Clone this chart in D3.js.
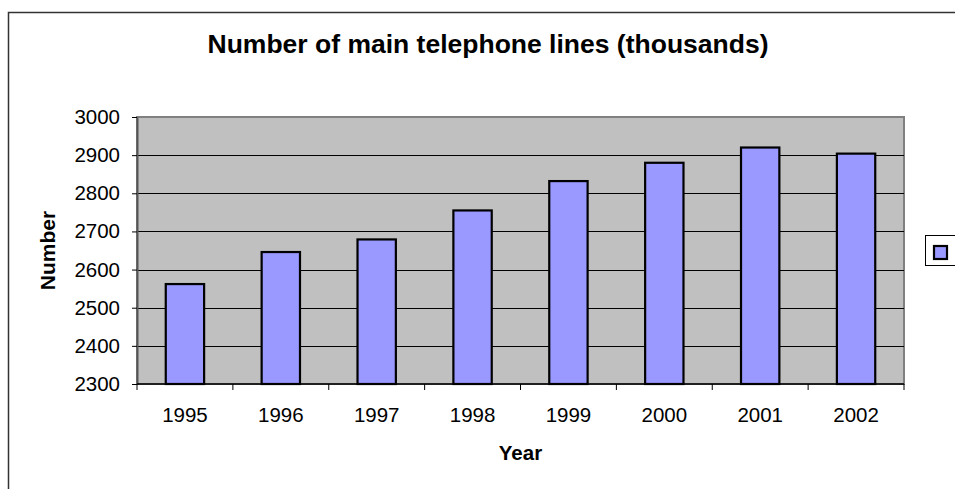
<!DOCTYPE html>
<html>
<head>
<meta charset="utf-8">
<script src="https://cdn.jsdelivr.net/npm/d3@7"></script>
<style>
  html, body { margin: 0; padding: 0; background: #fff; }
  svg { display: block; font-family: Arial, "Liberation Sans", sans-serif; }
</style>
</head>
<body>
<svg id="chart" width="955" height="489"></svg>
<script>
// Main telephone lines, thousands
const years = ["1995", "1996", "1997", "1998", "1999", "2000", "2001", "2002"];
const lines = [2562, 2646, 2679, 2755, 2832, 2880, 2920, 2904];
const yTicks = [2300, 2400, 2500, 2600, 2700, 2800, 2900, 3000];

const svg = d3.select("#chart");
const plot = { left: 137, right: 904, top: 117, bottom: 384 };

// outer chart frame
svg.append("rect")
  .attr("x", 8.5).attr("y", 12.5)
  .attr("width", 960).attr("height", 500)
  .attr("fill", "#fff").attr("stroke", "#333").attr("stroke-width", 1.5);

const x = d3.scaleBand().domain(years).range([plot.left, plot.right]).paddingInner(0.6).paddingOuter(0.3);
const xOuter = d3.scaleBand().domain(years).range([plot.left, plot.right]);
const y = d3.scaleLinear().domain([2300, 3000]).range([plot.bottom, plot.top]);

// plot area
svg.append("rect")
  .attr("x", plot.left).attr("y", plot.top)
  .attr("width", plot.right - plot.left).attr("height", plot.bottom - plot.top)
  .attr("fill", "#c0c0c0").attr("stroke", "#808080").attr("stroke-width", 2);

// gridlines
svg.append("g").selectAll("line")
  .data(yTicks.filter(v => v > 2300 && v < 3000))
  .join("line")
  .attr("x1", plot.left).attr("x2", plot.right)
  .attr("y1", d => Math.round(y(d)) + 0.5).attr("y2", d => Math.round(y(d)) + 0.5)
  .attr("stroke", "#000").attr("stroke-width", 1);

// bars
svg.append("g").selectAll("rect")
  .data(years.map((yr, i) => ({ yr, v: lines[i] })))
  .join("rect")
  .attr("x", d => x(d.yr))
  .attr("y", d => y(d.v))
  .attr("width", x.bandwidth())
  .attr("height", d => y(2300) - y(d.v))
  .attr("fill", "#9999ff")
  .attr("stroke", "#000").attr("stroke-width", 2.2);

// y axis
const yAxis = svg.append("g")
  .attr("transform", `translate(${plot.left},0)`)
  .call(d3.axisLeft(y).tickValues(yTicks).tickSize(5).tickSizeOuter(0).tickPadding(12).tickFormat(d3.format("d")));
yAxis.select(".domain").attr("stroke", "#555").attr("stroke-width", 2);
yAxis.selectAll(".tick line").attr("stroke", "#000");
yAxis.selectAll("text").attr("font-size", "20.5px").attr("fill", "#000")
  .attr("font-family", "Arial, 'Liberation Sans', sans-serif");

// x axis: ticks on category boundaries, labels centred in each band
const xAxisG = svg.append("g").attr("transform", `translate(0,${plot.bottom})`);
xAxisG.append("line")
  .attr("x1", plot.left).attr("x2", plot.right)
  .attr("y1", 0).attr("y2", 0)
  .attr("stroke", "#000").attr("stroke-width", 1.5);
const bounds = years.map(d => xOuter(d)).concat([plot.right]);
xAxisG.selectAll("line.tick")
  .data(bounds)
  .join("line").attr("class", "tick")
  .attr("x1", d => d).attr("x2", d => d)
  .attr("y1", 0).attr("y2", 6)
  .attr("stroke", "#000").attr("stroke-width", 1);
xAxisG.selectAll("text")
  .data(years)
  .join("text")
  .attr("x", d => xOuter(d) + xOuter.bandwidth() / 2)
  .attr("y", 37.5)
  .attr("text-anchor", "middle")
  .attr("font-size", "20.5px")
  .text(d => d);

// titles
svg.append("text")
  .attr("x", 488).attr("y", 53.3)
  .attr("text-anchor", "middle")
  .attr("font-size", "26.5px").attr("font-weight", "bold")
  .text("Number of main telephone lines (thousands)");

svg.append("text")
  .attr("x", (plot.left + plot.right) / 2).attr("y", 460)
  .attr("text-anchor", "middle")
  .attr("font-size", "20.5px").attr("font-weight", "bold")
  .text("Year");

svg.append("text")
  .attr("transform", `translate(55,${(plot.top + plot.bottom) / 2}) rotate(-90)`)
  .attr("text-anchor", "middle")
  .attr("font-size", "21px").attr("font-weight", "bold")
  .text("Number");

// legend
const legend = svg.append("g");
legend.append("rect")
  .attr("x", 925.5).attr("y", 235.5).attr("width", 40).attr("height", 30)
  .attr("fill", "#fff").attr("stroke", "#000").attr("stroke-width", 1);
legend.append("rect")
  .attr("x", 934).attr("y", 246).attr("width", 13).attr("height", 13)
  .attr("fill", "#9999ff").attr("stroke", "#000").attr("stroke-width", 2.2);
</script>
</body>
</html>
